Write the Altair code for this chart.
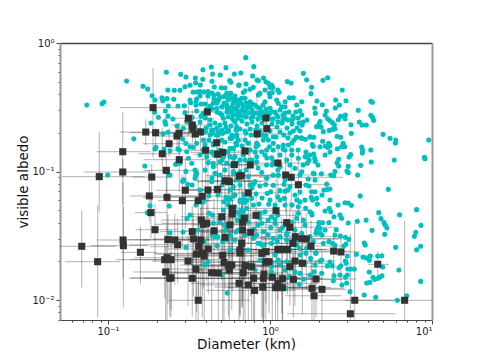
import altair as alt
import pandas as pd

# Values, as (log10 diameter, log10 albedo)
teal_right_upper = [(-.15,-.114),(-.10,-.184),(-.18,-.233),(-.107,-.257),(-.04,-.272),(-.08,-.288),(.206,-.236),(.226,-.286),(.356,-.27),(.327,-.29),(.107,-.30),(.13,-.311),(.257,-.345),(.253,-.394),(.446,-.366),(.29,-.451),(.323,-.48),(.405,-.444),(.469,-.449),(.428,-.482),(.403,-.506),(.623,-.454),(.632,-.461),(.545,-.524),(.276,-.506),(.28,-.547),(.348,-.529),(.34,-.56),(.623,-.563),(.632,-.578),(.64,-.602),(.465,-.56),(.436,-.57),(.463,-.589),(.422,-.597),(.356,-.589),(.37,-.605),(.551,-.615),(.568,-.638),(.594,-.638),(.5,-.636),(.309,-.612),(.304,-.628),(.397,-.636),(.385,-.62),(.401,-.667),(.387,-.672),(.366,-.68),(.288,-.651),(.315,-.654),(.502,-.703),(.329,-.69),(.698,-.711),(.741,-.742),(.776,-.755),(.774,-.778),(.98,-.755),(.414,-.726),(.436,-.734),(.162,-.734),(.193,-.737),(.218,-.749),(.247,-.732),(.27,-.734),(.325,-.765),(.362,-.781),(.37,-.799),(.342,-.802),(.356,-.812),(.309,-.807),(.261,-.791),(.267,-.804),(.451,-.781),(.442,-.807),(.461,-.807),(.416,-.823),(.566,-.809),(.572,-.835),(.57,-.856),(.622,-.833),(.37,-.848),(.222,-.848),(.27,-.864),(.224,-.885),(.241,-.911),(.276,-.897),(.28,-.921),(.498,-.869),(.488,-.887),(.424,-.905),(.414,-.932),(.424,-.957),(.625,-.926),(.767,-.911),(.953,-.89),(.957,-.9),(.56,-.952),(.483,-.96),(.475,-.996),(.483,-1.01),(.272,-1.017),(.317,-1.017),(.401,-.999),(.375,-1.027),(.393,-1.033),(.541,-1.027)]
teal_right_lower = [(.35,-1.097),(.354,-1.139),(.333,-1.144),(.37,-1.136),(.73,-1.139),(.557,-1.19),(.463,-1.243),(.483,-1.245),(.502,-1.263),(.905,-1.297),(.80,-1.336),(.671,-1.32),(.685,-1.367),(.704,-1.398),(.712,-1.419),(.722,-1.44),(.708,-1.489),(.63,-1.458),(.932,-1.419),(.90,-1.473),(.891,-1.504),(.905,-1.609),(.93,-1.582),(.776,-1.59),(.539,-1.387),(.593,-1.378),(.483,-1.401),(.582,-1.556),(.588,-1.572),(.409,-1.453),(.434,-1.502),(.465,-1.512),(.486,-1.528),(.469,-1.564),(.457,-1.58),(.533,-1.644),(.574,-1.665),(.593,-1.671),(.619,-1.658),(.613,-1.691),(.665,-1.658),(.69,-1.655),(.696,-1.743),(.796,-1.767),(.613,-1.782),(.48,-1.759),(.498,-1.759),(.52,-1.759),(.471,-1.714),(.465,-1.697),(.477,-1.658),(.438,-1.733),(.426,-1.749),(.636,-1.823),(.646,-1.839),(.667,-1.831),(.679,-1.821),(.691,-1.811),(.597,-1.868),(.617,-1.862),(.93,-1.855),(.477,-1.805),(.465,-1.823),(.395,-1.811),(.391,-1.85),(.444,-1.883),(.473,-1.868),(.494,-1.935),(.582,-1.961),(.652,-1.979),(.786,-2.002),(.844,-1.967)]
teal_centre_lower = [(-.103,-1.097),(-.027,-1.102),(.02,-1.107),(-.062,-1.113),(.086,-1.1),(.123,-1.118),(.241,-1.113),(.257,-1.157),(.278,-1.157),(.062,-1.149),(.093,-1.152),(.004,-1.157),(-.017,-1.17),(-.086,-1.175),(.154,-1.183),(.048,-1.196),(.088,-1.209),(.165,-1.222),(.185,-1.235),(.255,-1.201),(.288,-1.209),(.263,-1.222),(.292,-1.253),(-.144,-1.222),(-.068,-1.253),(-.008,-1.255),(.093,-1.261),(.175,-1.274),(.22,-1.286),(.247,-1.313),(.34,-1.307),(.366,-1.286),(.375,-1.313),(.395,-1.352),(.432,-1.339),(.442,-1.364),(-.031,-1.313),(-.144,-1.352),(-.062,-1.364),(-.01,-1.378),(.031,-1.372),(.031,-1.403),(.165,-1.364),(.206,-1.378),(.302,-1.398),(.323,-1.398),(.364,-1.398),(.298,-1.43),(.288,-1.455),(.309,-1.442),(.284,-1.481),(.309,-1.481),(-.051,-1.403),(-.099,-1.447),(-.041,-1.468),(.004,-1.437),(.062,-1.455),(.103,-1.481),(.154,-1.455),(.196,-1.481),(.247,-1.507),(.267,-1.546),(.364,-1.546),(.385,-1.559),(.329,-1.559),(-.103,-1.52),(-.062,-1.559),(.045,-1.546),(.103,-1.533),(.165,-1.572),(.181,-1.598),(.226,-1.598),(.284,-1.632),(.319,-1.689),(.354,-1.735),(.385,-1.735),(.319,-1.792),(.251,-1.676),(.185,-1.702),(.216,-1.714),(.051,-1.689),(.103,-1.702),(.01,-1.702),(-.062,-1.689),(-.123,-1.728),(-.093,-1.767),(.01,-1.78),(.093,-1.767),(.185,-1.792),(.206,-1.839),(.181,-1.878),(.272,-1.78)]
teal_top_middle = [(-.072,-.293),(-.025,-.301),(-.01,-.314),(.01,-.327),(0,-.345),(.017,-.345),(-.148,-.319),(-.191,-.327),(-.103,-.345),(-.123,-.36),(-.154,-.371),(-.165,-.386),(-.031,-.366),(-.062,-.391),(-.072,-.405),(-.004,-.391),(.014,-.386),(.048,-.366),(.056,-.384),(0,-.418),(-.243,-.391),(-.241,-.43),(-.206,-.469),(-.175,-.43),(-.154,-.43),(-.19,-.444),(-.123,-.457),(-.031,-.457),(.041,-.444),(.051,-.469),(.119,-.426),(.144,-.426),(.165,-.482),(.196,-.457),(.185,-.527),(.093,-.457),(.072,-.496),(.093,-.496),(.041,-.56),(-.062,-.508),(0,-.508),(.01,-.535),(-.021,-.547),(-.123,-.496),(-.113,-.542),(-.216,-.508),(-.185,-.535),(-.236,-.535),(-.154,-.535),(-.206,-.56),(.093,-.586),(.144,-.586),(.196,-.56)]
teal_top_left = [(-.885,-.296),(-1.131,-.482),(-1.037,-.472),(-1.025,-.459),(-.784,-.337),(-.755,-.358),(-.728,-.41),(-.71,-.444),(-.667,-.426),(-.662,-.449),(-.636,-.433),(-.594,-.438),(-.64,-.228),(-.551,-.244),(-.519,-.265),(-.631,-.366),(-.591,-.368),(-.556,-.368),(-.525,-.34),(-.494,-.329),(-.461,-.272),(-.414,-.208),(-.362,-.187),(-.272,-.192),(-.354,-.241),(-.307,-.249),(-.22,-.241),(-.415,-.282),(-.459,-.309),(-.358,-.298),(-.249,-.293),(-.241,-.306),(-.193,-.329),(-.344,-.342),(-.301,-.348),(-.278,-.35),(-.43,-.327),(-.267,-.391),(-.243,-.391),(-.475,-.381),(-.451,-.381),(-.432,-.377),(-.407,-.381),(-.383,-.377),(-.358,-.389),(-.321,-.397)]
teal_left_middle = [(-.628,-.49),(-.568,-.49),(-.529,-.488),(-.646,-.529),(-.525,-.542),(-.712,-.539),(-.689,-.578),(-.63,-.568),(-.599,-.591),(-.648,-.612),(-.644,-.633),(-.735,-.623),(-.574,-.646),(-.535,-.664),(-.841,-.745),(-.66,-.708),(-.63,-.695),(-.539,-.747),(-.52,-.781),(-.71,-.825),(-.704,-.812),(-.654,-.825),(-.568,-.823),(-.494,-.807),(-.477,-.812),(-.773,-.957),(-1.002,-1.027),(-.582,-.944),(-.625,-1.027),(-.519,-.999),(-.459,-1.027),(-.531,-1.066),(-.494,-.444),(-.49,-.465),(-.453,-.436),(-.457,-.457),(-.401,-.475),(-.37,-.49),(-.412,-.547),(-.426,-.568),(-.453,-.529),(-.48,-.578),(-.514,-.612),(-.37,-.638),(-.35,-.677),(-.36,-.703),(-.292,-.703),(-.255,-.682),(-.236,-.734),(-.206,-.729),(-.206,-.677),(-.288,-.586),(-.257,-.574),(-.226,-.599),(-.196,-.586),(-.329,-.508),(-.298,-.496),(-.267,-.482),(-.236,-.496),(-.206,-.521),(-.196,-.547),(-.247,-.535),(-.309,-.547),(-.35,-.469),(-.288,-.418),(-.247,-.43),(-.206,-.444),(-.319,-.444),(-.432,-.677),(-.453,-.781),(-.412,-.755),(-.35,-.794),(-.391,-.885),(-.35,-.936),(-.309,-.924),(-.432,-.872),(-.412,-.833),(-.267,-.936),(-.247,-.885),(-.226,-1.014),(-.206,-.936),(-.34,-1.014),(-.278,-.988),(-.514,-.846),(-.556,-.936),(-.483,-.936)]
teal_middle = [(-.206,-.651),(-.154,-.685),(-.236,-.716),(-.236,-.742),(-.196,-.755),(-.154,-.755),(-.134,-.781),(-.206,-.794),(-.226,-.82),(-.086,-.807),(-.082,-.781),(-.041,-.716),(-.041,-.755),(-.01,-.755),(.02,-.781),(-.004,-.807),(-.021,-.833),(.02,-.833),(.051,-.807),(.082,-.794),(.113,-.794),(.134,-.833),(.082,-.827),(.165,-.734),(.196,-.742),(.247,-.729),(.144,-.685),(.02,-.729),(-.082,-.885),(-.051,-.846),(-.216,-.885),(-.165,-.872),(-.123,-.911),(-.082,-.924),(-.021,-.949),(.01,-.893),(.02,-.924),(.062,-.963),(.103,-.911),(.134,-.872),(.175,-.897),(.216,-.885),(.154,-.975),(.196,-1.002),(.23,-.936),(-.185,-1.002),(-.134,-1.04),(-.051,-1.006),(-.021,-1.053),(.02,-1.027),(.051,-1.027),(-.226,-1.002),(.267,-1.014),(.093,-1.066),(-.093,-1.079),(-.206,-1.066),(.236,-1.058),(-.56,-.833),(-.617,-.838),(-.381,-.931),(-.35,-.963),(-.504,-.897),(-.58,-.942),(-.463,-.988),(-.535,-1.066),(-.463,-1.053),(-.288,-.885),(-.226,-.897),(-.226,-1.002),(-.196,-1.022),(-.309,-1.027),(-.247,-.82),(-.319,-.716),(-.298,-.755),(-.267,-.69),(-.35,-.781),(-.37,-.716),(-.36,-.677),(-.319,-.69),(-.247,-.742),(-.206,-.716),(-.453,-1.014),(-.617,-1.027)]
teal_dense_band = [(-.383,-.412),(-.346,-.405),(-.315,-.436),(-.284,-.467),(-.259,-.444),(-.228,-.467),(-.198,-.49),(-.167,-.49),(-.142,-.506),(-.111,-.475),(-.08,-.498),(-.049,-.537),(-.358,-.514),(-.327,-.537),(-.296,-.56),(-.265,-.537),(-.228,-.552),(-.198,-.537),(-.167,-.568),(-.136,-.545),(-.105,-.576),(-.074,-.545),(-.043,-.584),(-.012,-.568),(.019,-.591),(.049,-.576),(.08,-.56),(.111,-.599),(.142,-.568),(.173,-.584),(.204,-.615),(.228,-.599),(-.173,-.607),(-.142,-.63),(-.111,-.615),(-.08,-.646),(-.049,-.623),(-.019,-.654),(.012,-.63),(.043,-.654),(.074,-.623),(.105,-.661),(.136,-.63),(.167,-.661),(.198,-.638),(-.185,-.669),(-.123,-.669),(-.062,-.685),(0,-.685),(.062,-.693),(.123,-.7),(.185,-.685),(-.401,-.584),(-.37,-.599),(-.34,-.623),(-.309,-.638),(-.278,-.623),(-.432,-.412),(-.457,-.482),(-.426,-.475),(-.389,-.514),(-.432,-.615),(-.463,-.654),(-.395,-.661),(-.327,-.661)]
teal_lower_left = [(-.741,-1.266),(-.757,-1.32),(-.622,-1.268),(-.617,-1.476),(-.537,-1.471),(-.519,-1.59),(-.512,-1.367),(-.539,-1.076),(-.508,-1.1),(-.481,-1.105),(-.375,-1.325),(-.354,-1.339),(-.264,-1.946),(-.383,-1.702),(-.325,-1.577),(-.247,-1.611),(-.412,-1.237),(-.378,-1.188),(-.333,-1.144),(-.284,-1.235),(-.247,-1.144),(-.216,-1.183),(-.288,-1.3),(-.216,-1.274),(-.202,-1.378),(-.35,-1.403),(-.273,-1.455),(-.247,-1.494),(-.406,-1.541),(-.34,-1.507),(-.216,-1.533),(-.196,-1.455),(-.257,-1.222),(-.446,-1.455),(-.272,-1.455),(-.323,-1.507),(-.292,-1.546),(-.247,-1.209),(-.272,-1.201),(-.226,-1.19),(-.185,-1.222),(-.36,-1.079),(-.226,-1.118)]
teal_lower_centre = [(-.165,-1.222),(-.185,-1.235),(-.154,-1.243),(-.113,-1.209),(-.103,-1.261),(-.175,-1.3),(-.144,-1.286),(-.062,-1.325),(-.165,-1.313),(.01,-1.352),(.031,-1.261),(.175,-1.325),(.257,-1.325),(-.082,-1.494),(.02,-1.52),(.062,-1.507),(.01,-1.559),(-.072,-1.559),(.103,-1.494),(.01,-1.741),(.247,-1.805),(.097,-1.909),(.154,-1.78),(.119,-1.819),(.282,-1.637),(.309,-1.697),(.222,-1.637)]
teal_crowded = [(-.346,-.436),(-.327,-.467),(-.309,-.42),(-.296,-.498),(-.278,-.412),(-.265,-.506),(-.253,-.42),(-.241,-.506),(-.222,-.444),(-.216,-.412),(-.191,-.459),(-.179,-.467),(-.21,-.514),(-.191,-.56),(-.173,-.521),(-.148,-.467),(-.13,-.482),(-.111,-.521),(-.093,-.482),(-.148,-.576),(-.117,-.584),(-.093,-.545),(-.074,-.591),(-.062,-.56),(-.043,-.482),(-.025,-.514),(0,-.545),(.012,-.591),(.031,-.537),(.049,-.615),(.062,-.521),(.08,-.599),(.093,-.545),(.117,-.537),(.136,-.599),(.16,-.537),(.179,-.623),(-.235,-.584),(-.216,-.615),(-.241,-.646),(-.21,-.677),(-.272,-.654),(-.296,-.677),(-.148,-.7),(-.117,-.716),(-.086,-.677),(-.049,-.716),(-.025,-.724),(.037,-.732),(.086,-.716),(.111,-.739),(.148,-.755),(-.333,-.716),(-.401,-.693),(-.377,-.755),(-.278,-.77),(-.21,-.778),(-.173,-.802),(-.123,-.833),(-.093,-.848),(-.259,-.848),(-.358,-.848),(-.309,-.833),(-.154,-.911),(-.074,-.973),(-.019,-.895),(.062,-.872),(.123,-.949),(.185,-1.027),(-.185,-1.105),(-.154,-1.494),(-.198,-1.611),(-.037,-1.572),(.123,-1.611),(.247,-1.572),(.34,-1.455),(.401,-1.494),(.031,-1.65),(.185,-1.65),(-.185,-1.339),(.093,-1.416),(-.123,-1.105),(.062,-1.222),(-.278,-1.416),(.216,-1.222)]
teal_centre_fill = [(-.401,-.794),(-.346,-.872),(-.296,-.911),(-.235,-.949),(-.185,-.911),(-.148,-.988),(-.111,-.911),(-.074,-.794),(-.031,-.872),(.012,-.949),(.049,-.988),(.093,-.833),(.136,-.778),(.173,-.833),(.204,-.949),(.247,-.872),(.296,-.949),(.34,-.872),(-.401,-.988),(-.358,-1.051),(-.296,-1.105),(-.321,-1.183),(-.259,-1.261),(-.204,-1.315),(-.16,-1.183),(-.111,-1.128),(-.049,-1.206),(0,-1.222),(.049,-1.339),(.111,-1.144),(.136,-1.261),(.185,-1.16),(.222,-1.105),(.278,-1.066),(.321,-1.183),(.37,-1.222),(.42,-1.261),(-.432,-1.144),(-.457,-1.261),(-.494,-1.339),(-.401,-1.416),(-.358,-1.494),(-.309,-1.393),(-.259,-1.533),(-.21,-1.471),(-.136,-1.393),(-.074,-1.416),(-.012,-1.494),(.074,-1.44),(.136,-1.393),(.216,-1.416),(.259,-1.339),(.321,-1.494),(.401,-1.572),(.173,-1.533),(-.049,-1.572),(-.136,-1.611),(.062,-1.728),(.154,-1.844),(.278,-1.728),(-.401,-1.728),(-.296,-1.805),(.37,-1.704),(.432,-1.805)]

# (log10 diameter, log10 albedo, diameter err low, err high, albedo err up, err down)
dark_upper = [(-.722,-.503,.205,.21,.31,.39),(-.767,-.693,.16,.17,.1,.1),(-.706,-.698,.16,.27,.04,.14),(-.909,-.846,.16,.17,.31,.2),(-.909,-1.004,.24,.17,.1,.25),(-1.054,-1.04,.23,.28,.35,.28),(-.73,-1.043,.12,.13,.1,.25),(-.665,-.862,.15,.12,.2,.15),(-.64,-.991,.14,.18,.15,.22),(-.623,-.784,.16,.14,.12,.1),(-.56,-.908,.22,.2,.15,.25),(-.574,-.724,.14,.12,.1,.12),(-.562,-.703,.12,.14,.09,.1),(-.504,-.586,.15,.16,.1,.14),(-.48,-.638,.13,.1,.12,.1),(-.477,-.669,.1,.14,.1,.15),(-.461,-.708,.14,.11,.09,.13),(-.43,-.693,.16,.12,.1,.15),(-.387,-.537,.13,.13,.1,.16),(-.329,-.776,.1,.12,.12,.2),(-.397,-.835,.2,.15,.1,.3),(-.323,-.866,.15,.2,.15,.3),(-.292,-.851,.2,.17,.1,.25),(-.22,-.947,.12,.14,.18,.28),(-.278,-1.072,.15,.18,.2,.35),(-.19,-1.035,.18,.2,.15,.3),(-.025,-.584,.1,.12,.08,.12),(-.02,-.667,.1,.1,.08,.1),(-.08,-.708,.15,.2,.33,.25),(-.154,-.84,.2,.18,.15,.3),(-.122,-.949,.18,.2,.2,.3),(.049,-.934,.15,.22,.15,.25),(-.177,-1.033,.22,.2,.3,.3),(.097,-1.027,.25,.3,.2,.3),(.131,-1.045,.2,.32,.15,.25)]
dark_lower_left = [(-1.162,-1.582,.2,.21,.28,.32),(-1.064,-1.702,.2,.14,.44,.43),(-.907,-1.533,.16,.17,.45,.3),(-.905,-1.577,.2,.15,.3,.48),(-.80,-1.629,.12,.1,.2,.25),(-.745,-1.19,.12,.3,.2,.2),(-.636,-1.201,.15,.2,.2,.3),(-.735,-1.32,.1,.1,.15,.2),(-.71,-1.453,.12,.14,.2,.25),(-.523,-1.146,.18,.2,.25,.3),(-.541,-1.227,.15,.18,.2,.35),(-.443,-1.227,.2,.22,.25,.4),(-.418,-1.193,.2,.18,.3,.45),(-.383,-1.144,.15,.2,.2,.4),(-.325,-1.139,.22,.2,.15,.45),(-.257,-1.074,.2,.25,.2,.4),(-.63,-1.53,.25,.2,.2,.5),(-.588,-1.533,.2,.22,.2,.35),(-.57,-1.57,.3,.25,.2,.3),(-.65,-1.686,.3,.2,.2,.3),(-.636,-1.671,.2,.25,.25,.5),(-.611,-1.686,.25,.3,.2,.45),(-.506,-1.697,.22,.18,.2,.35),(-.644,-1.782,.2,.3,.2,.45),(-.619,-1.831,.25,.27,.2,.3),(-.48,-1.831,.3,.25,.2,.3),(-.457,-1.759,.2,.3,.25,.4),(-.443,-2.002,.18,.32,.15,.4),(-.48,-1.468,.2,.25,.2,.3),(-.473,-1.525,.25,.3,.2,.45),(-.44,-1.585,.3,.25,.25,.4),(-.428,-1.533,.22,.28,.25,.5),(-.424,-1.378,.25,.3,.2,.4),(-.412,-1.411,.3,.25,.2,.5),(-.391,-1.403,.28,.3,.2,.45),(-.346,-1.461,.2,.28,.25,.4),(-.298,-1.352,.25,.2,.3,.5),(-.247,-1.416,.22,.3,.2,.5),(-.233,-1.287,.2,.25,.3,.45),(-.233,-1.331,.25,.2,.25,.6),(-.278,-1.512,.3,.25,.2,.4),(-.453,-1.642,.25,.3,.2,.45),(-.418,-1.637,.3,.2,.25,.5),(-.406,-1.658,.2,.3,.3,.5),(-.381,-1.603,.25,.25,.2,.35),(-.292,-1.652,.3,.22,.25,.5),(-.284,-1.707,.25,.25,.3,.45),(-.257,-1.728,.3,.28,.25,.4),(-.236,-1.728,.25,.3,.3,.35),(-.251,-1.767,.28,.25,.3,.4),(-.36,-1.788,.25,.3,.3,.4),(-.319,-1.79,.3,.25,.2,.4),(-.191,-1.87,.3,.3,.2,.3),(-.611,-1.827,.25,.2,.2,.25),(-.251,-1.079,.2,.2,.2,.45)]
dark_lower_right = [(.175,-1.103,.3,.2,.25,.3),(-.134,-1.167,.22,.25,.3,.4),(-.086,-1.341,.18,.25,.2,.35),(.037,-1.305,.28,.22,.25,.4),(.103,-1.398,.2,.25,.2,.35),(.123,-1.434,.25,.3,.2,.35),(-.159,-1.364,.3,.2,.3,.5),(-.169,-1.395,.2,.28,.25,.6),(-.169,-1.455,.25,.3,.3,.6),(-.119,-1.473,.3,.25,.25,.5),(.156,-1.507,.22,.3,.2,.35),(.196,-1.523,.3,.25,.2,.3),(.224,-1.525,.28,.2,.2,.4),(.142,-1.559,.3,.2,.25,.35),(.253,-1.58,.2,.2,.2,.4),(.393,-1.619,.15,.1,.15,.2),(.438,-1.626,.15,.12,.15,.25),(.665,-1.722,.06,.07,.1,.1),(-.175,-1.559,.3,.3,.3,.5),(-.051,-1.637,.3,.28,.2,.5),(-.025,-1.624,.25,.3,.25,.4),(.048,-1.606,.3,.3,.2,.4),(.072,-1.606,.25,.25,.25,.5),(.107,-1.606,.3,.28,.2,.35),(-.025,-1.702,.3,.25,.25,.45),(-.006,-1.702,.25,.3,.2,.4),(.154,-1.697,.28,.25,.25,.35),(.2,-1.714,.25,.2,.2,.4),(.123,-1.741,.3,.25,.2,.3),(-.154,-1.733,.28,.3,.3,.5),(-.113,-1.741,.3,.25,.25,.45),(-.165,-1.788,.3,.28,.25,.4),(-.037,-1.8,.25,.3,.3,.35),(-.041,-1.831,.3,.25,.25,.35),(.014,-1.823,.25,.3,.25,.35),(-.101,-1.831,.3,.28,.2,.35),(.078,-1.834,.3,.25,.25,.35),(.144,-1.839,.25,.3,.2,.3),(.284,-1.836,.2,.25,.15,.3),(.048,-1.87,.3,.25,.2,.35),(-.134,-1.883,.3,.3,.2,.3),(-.045,-1.899,.3,.28,.25,.3),(.035,-1.904,.3,.3,.2,.3),(.076,-1.904,.25,.3,.2,.3),(.259,-1.909,.25,.2,.2,.3),(.321,-1.917,.2,.15,.3,.3),(.272,-1.967,.18,.17,.2,.2),(-.095,-1.925,.3,.25,.2,.3),(.523,-2.002,.06,.28,.6,.15),(.831,-2.002,.52,.25,.62,.2),(.496,-2.107,.39,.28,.62,.1),(-.185,-1.611,.25,.3,.3,.5),(-.185,-1.634,.3,.25,.25,.5)]

x_major = [0.1, 1, 10]
x_minor = [.06,.07,.08,.09,.2,.3,.4,.5,.6,.7,.8,.9,2,3,4,5,6,7,8,9]
y_major = [0.01, 0.1, 1]
y_minor = [.007,.008,.009,.02,.03,.04,.05,.06,.07,.08,.09,.2,.3,.4,.5,.6,.7,.8,.9]

teal_all = (teal_right_upper + teal_right_lower + teal_centre_lower + teal_top_middle + teal_top_left
            + teal_left_middle + teal_middle + teal_dense_band + teal_lower_left + teal_lower_centre
            + teal_crowded + teal_centre_fill)
teal = pd.DataFrame({"D": [10 ** p[0] for p in teal_all], "A": [10 ** p[1] for p in teal_all]})

dark_all = dark_upper + dark_lower_left + dark_lower_right
dark = pd.DataFrame({
    "D": [10 ** r[0] for r in dark_all], "A": [10 ** r[1] for r in dark_all],
    "D0": [10 ** (r[0] - r[2]) for r in dark_all], "D1": [10 ** (r[0] + r[3]) for r in dark_all],
    "A1": [10 ** (r[1] + r[4]) for r in dark_all], "A0": [10 ** (r[1] - r[5]) for r in dark_all],
})

font = "DejaVu Sans"
x_scale = alt.Scale(type="log", domain=[0.05054, 10], nice=False)
y_scale = alt.Scale(type="log", domain=[0.00699, 1], nice=False)
x_expr = "datum.value==0.1?'10⁻¹':datum.value==1?'10⁰':datum.value==10?'10¹':''"
y_expr = "datum.value==0.01?'10⁻²':datum.value==0.1?'10⁻¹':datum.value==1?'10⁰':''"
x_test = "datum.value==0.1||datum.value==1||datum.value==10"
y_test = "datum.value==0.01||datum.value==0.1||datum.value==1"

x_axis = alt.Axis(title="Diameter (km)", values=x_major + x_minor, labelExpr=x_expr, grid=False,
                  tickColor="#444", domainColor="#444", tickWidth=1, labelFont=font, labelFontSize=10,
                  labelColor="#222", labelPadding=2, titleFont=font, titleFontSize=13.5, titleFontWeight="normal",
                  titleColor="#111", titlePadding=1, labelOverlap=False,
                  tickSize={"condition": {"test": x_test, "value": 4}, "value": 2})
y_axis = alt.Axis(title="visible albedo", values=y_major + y_minor, labelExpr=y_expr, grid=False,
                  tickColor="#444", domainColor="#999", domainWidth=2, tickWidth=1, labelFont=font, labelFontSize=10,
                  labelColor="#222", labelPadding=2, titleFont=font, titleFontSize=13.5, titleFontWeight="normal",
                  titleColor="#111", titlePadding=1, labelOverlap=False,
                  tickSize={"condition": {"test": y_test, "value": 4}, "value": 2})

h_err = alt.Chart(dark).mark_rule(color="#000", opacity=0.3, strokeWidth=1, clip=True).encode(
    x=alt.X("D0:Q", scale=x_scale, axis=alt.Axis(orient="top", labels=False, ticks=False, title=None, grid=False, domainColor="#444", domainWidth=1.5)),
    x2="D1:Q",
    y=alt.Y("A:Q", scale=y_scale, axis=alt.Axis(orient="right", labels=False, ticks=False, title=None, grid=False, domainColor="#999", domainWidth=2)),
)
v_err = alt.Chart(dark).mark_rule(color="#000", opacity=0.3, strokeWidth=1, clip=True).encode(
    x=alt.X("D:Q", scale=x_scale, axis=None),
    y=alt.Y("A0:Q", scale=y_scale, axis=None),
    y2="A1:Q",
)
points = alt.Chart(teal).mark_circle(size=26, color="#00bfbf", opacity=1, clip=True).encode(
    x=alt.X("D:Q", scale=x_scale, axis=x_axis),
    y=alt.Y("A:Q", scale=y_scale, axis=y_axis),
)
squares = alt.Chart(dark).mark_square(size=50, color="#333333", opacity=1, clip=True).encode(
    x=alt.X("D:Q", scale=x_scale, axis=None),
    y=alt.Y("A:Q", scale=y_scale, axis=None),
)

chart = (
    alt.layer(h_err, v_err, points, squares)
    .resolve_axis(x="independent", y="independent")
    .properties(width=372, height=277, autosize=alt.AutoSizeParams(type="none"),
                padding={"left": 52, "top": 35, "right": 38, "bottom": 34}, background="white")
    .configure_view(stroke=None)
)
chart.save("out.html", embed_options={"renderer": "svg", "actions": False})
